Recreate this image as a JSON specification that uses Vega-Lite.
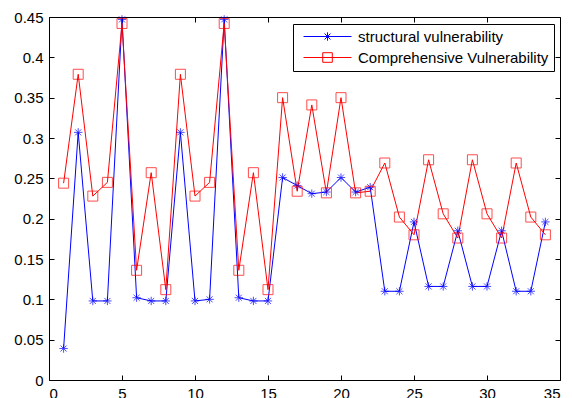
{
  "$schema": "https://vega.github.io/schema/vega-lite/v6.json",
  "width": 511,
  "height": 363,
  "autosize": {"type": "none"},
  "padding": {"left": 49, "top": 17, "right": 12, "bottom": 18},
  "background": "white",
  "config": {
    "view": {"stroke": "black", "strokeWidth": 1},
    "font": "Liberation Sans",
    "axis": {
      "domain": false,
      "ticks": false,
      "grid": true,
      "gridColor": "black",
      "gridOpacity": 1,
      "gridWidth": 1,
      "labelFont": "Liberation Sans",
      "labelFontSize": 15,
      "labelColor": "black",
      "labelPadding": 6,
      "title": null,
      "zindex": 1
    },
    "legend": {
      "orient": "none",
      "legendX": 244,
      "legendY": 7,
      "strokeColor": "black",
      "fillColor": "white",
      "padding": 5,
      "labelFont": "Liberation Sans",
      "labelFontSize": 15,
      "labelColor": "black",
      "labelLimit": 400,
      "symbolSize": 144,
      "symbolStrokeWidth": 1,
      "rowPadding": 5,
      "labelOffset": 45,
      "title": null,
      "zindex": 2
    }
  },
  "data": {
    "values": [
      {"x": 1, "series": "structural vulnerability", "v": 0.039},
      {"x": 2, "series": "structural vulnerability", "v": 0.307},
      {"x": 3, "series": "structural vulnerability", "v": 0.098},
      {"x": 4, "series": "structural vulnerability", "v": 0.098},
      {"x": 5, "series": "structural vulnerability", "v": 0.447},
      {"x": 6, "series": "structural vulnerability", "v": 0.102},
      {"x": 7, "series": "structural vulnerability", "v": 0.098},
      {"x": 8, "series": "structural vulnerability", "v": 0.098},
      {"x": 9, "series": "structural vulnerability", "v": 0.307},
      {"x": 10, "series": "structural vulnerability", "v": 0.098},
      {"x": 11, "series": "structural vulnerability", "v": 0.1},
      {"x": 12, "series": "structural vulnerability", "v": 0.447},
      {"x": 13, "series": "structural vulnerability", "v": 0.102},
      {"x": 14, "series": "structural vulnerability", "v": 0.098},
      {"x": 15, "series": "structural vulnerability", "v": 0.098},
      {"x": 16, "series": "structural vulnerability", "v": 0.251},
      {"x": 17, "series": "structural vulnerability", "v": 0.241},
      {"x": 18, "series": "structural vulnerability", "v": 0.231},
      {"x": 19, "series": "structural vulnerability", "v": 0.233},
      {"x": 20, "series": "structural vulnerability", "v": 0.251},
      {"x": 21, "series": "structural vulnerability", "v": 0.233},
      {"x": 22, "series": "structural vulnerability", "v": 0.239},
      {"x": 23, "series": "structural vulnerability", "v": 0.11},
      {"x": 24, "series": "structural vulnerability", "v": 0.11},
      {"x": 25, "series": "structural vulnerability", "v": 0.196},
      {"x": 26, "series": "structural vulnerability", "v": 0.116},
      {"x": 27, "series": "structural vulnerability", "v": 0.116},
      {"x": 28, "series": "structural vulnerability", "v": 0.185},
      {"x": 29, "series": "structural vulnerability", "v": 0.116},
      {"x": 30, "series": "structural vulnerability", "v": 0.116},
      {"x": 31, "series": "structural vulnerability", "v": 0.185},
      {"x": 32, "series": "structural vulnerability", "v": 0.11},
      {"x": 33, "series": "structural vulnerability", "v": 0.11},
      {"x": 34, "series": "structural vulnerability", "v": 0.196},
      {"x": 1, "series": "Comprehensive Vulnerability", "v": 0.244},
      {"x": 2, "series": "Comprehensive Vulnerability", "v": 0.379},
      {"x": 3, "series": "Comprehensive Vulnerability", "v": 0.228},
      {"x": 4, "series": "Comprehensive Vulnerability", "v": 0.245},
      {"x": 5, "series": "Comprehensive Vulnerability", "v": 0.442},
      {"x": 6, "series": "Comprehensive Vulnerability", "v": 0.136},
      {"x": 7, "series": "Comprehensive Vulnerability", "v": 0.257},
      {"x": 8, "series": "Comprehensive Vulnerability", "v": 0.112},
      {"x": 9, "series": "Comprehensive Vulnerability", "v": 0.379},
      {"x": 10, "series": "Comprehensive Vulnerability", "v": 0.228},
      {"x": 11, "series": "Comprehensive Vulnerability", "v": 0.245},
      {"x": 12, "series": "Comprehensive Vulnerability", "v": 0.442},
      {"x": 13, "series": "Comprehensive Vulnerability", "v": 0.136},
      {"x": 14, "series": "Comprehensive Vulnerability", "v": 0.257},
      {"x": 15, "series": "Comprehensive Vulnerability", "v": 0.112},
      {"x": 16, "series": "Comprehensive Vulnerability", "v": 0.35},
      {"x": 17, "series": "Comprehensive Vulnerability", "v": 0.234},
      {"x": 18, "series": "Comprehensive Vulnerability", "v": 0.341},
      {"x": 19, "series": "Comprehensive Vulnerability", "v": 0.232},
      {"x": 20, "series": "Comprehensive Vulnerability", "v": 0.35},
      {"x": 21, "series": "Comprehensive Vulnerability", "v": 0.232},
      {"x": 22, "series": "Comprehensive Vulnerability", "v": 0.234},
      {"x": 23, "series": "Comprehensive Vulnerability", "v": 0.269},
      {"x": 24, "series": "Comprehensive Vulnerability", "v": 0.202},
      {"x": 25, "series": "Comprehensive Vulnerability", "v": 0.18},
      {"x": 26, "series": "Comprehensive Vulnerability", "v": 0.273},
      {"x": 27, "series": "Comprehensive Vulnerability", "v": 0.206},
      {"x": 28, "series": "Comprehensive Vulnerability", "v": 0.176},
      {"x": 29, "series": "Comprehensive Vulnerability", "v": 0.273},
      {"x": 30, "series": "Comprehensive Vulnerability", "v": 0.206},
      {"x": 31, "series": "Comprehensive Vulnerability", "v": 0.176},
      {"x": 32, "series": "Comprehensive Vulnerability", "v": 0.269},
      {"x": 33, "series": "Comprehensive Vulnerability", "v": 0.202},
      {"x": 34, "series": "Comprehensive Vulnerability", "v": 0.18}
    ]
  },
  "layer": [
    {
      "mark": {"type": "line", "strokeWidth": 1},
      "encoding": {
        "x": {"field": "x", "type": "quantitative", "scale": {"domain": [0, 35], "nice": false},
              "axis": {"orient": "bottom", "values": [0, 5, 10, 15, 20, 25, 30, 35], "gridDash": [5, 353, 5, 1000]}},
        "y": {"field": "v", "type": "quantitative", "scale": {"domain": [0, 0.45], "nice": false, "zero": true},
              "axis": {"orient": "left", "values": [0, 0.05, 0.1, 0.15, 0.2, 0.25, 0.3, 0.35, 0.4, 0.45], "format": "~f", "gridDash": [5, 501, 5, 1000]}},
        "color": {
          "field": "series",
          "type": "nominal",
          "scale": {"domain": ["structural vulnerability", "Comprehensive Vulnerability"], "range": ["#0000ff", "#ff0000"]},
          "legend": {
            "encode": {
              "symbols": {
                "update": {
                  "shape": {"signal": "datum.value === 'structural vulnerability' ? 'M-0.33,0H7.67M2.97,0H4.37M3.67,-0.7V0.7M3.17,-0.5L4.17,0.5M3.17,0.5L4.17,-0.5' : 'M-0.33,0H7.67M2.87,-0.8H4.47V0.8H2.87Z'"},
                  "fill": {"value": "transparent"},
                  "strokeWidth": {"value": 1}
                }
              }
            }
          }
        }
      }
    },
    {
      "transform": [{"filter": "datum.series === 'structural vulnerability'"}],
      "mark": {"type": "point", "filled": false, "strokeWidth": 1, "size": 70,
               "shape": "M-1,0H1M0,-1V1M-0.72,-0.72L0.72,0.72M-0.72,0.72L0.72,-0.72"},
      "encoding": {
        "x": {"field": "x", "type": "quantitative"},
        "y": {"field": "v", "type": "quantitative"},
        "color": {"field": "series", "type": "nominal"}
      }
    },
    {
      "transform": [{"filter": "datum.series === 'Comprehensive Vulnerability'"}],
      "mark": {"type": "point", "filled": false, "strokeWidth": 1, "size": 100, "shape": "square"},
      "encoding": {
        "x": {"field": "x", "type": "quantitative"},
        "y": {"field": "v", "type": "quantitative"},
        "color": {"field": "series", "type": "nominal"}
      }
    }
  ]
}
